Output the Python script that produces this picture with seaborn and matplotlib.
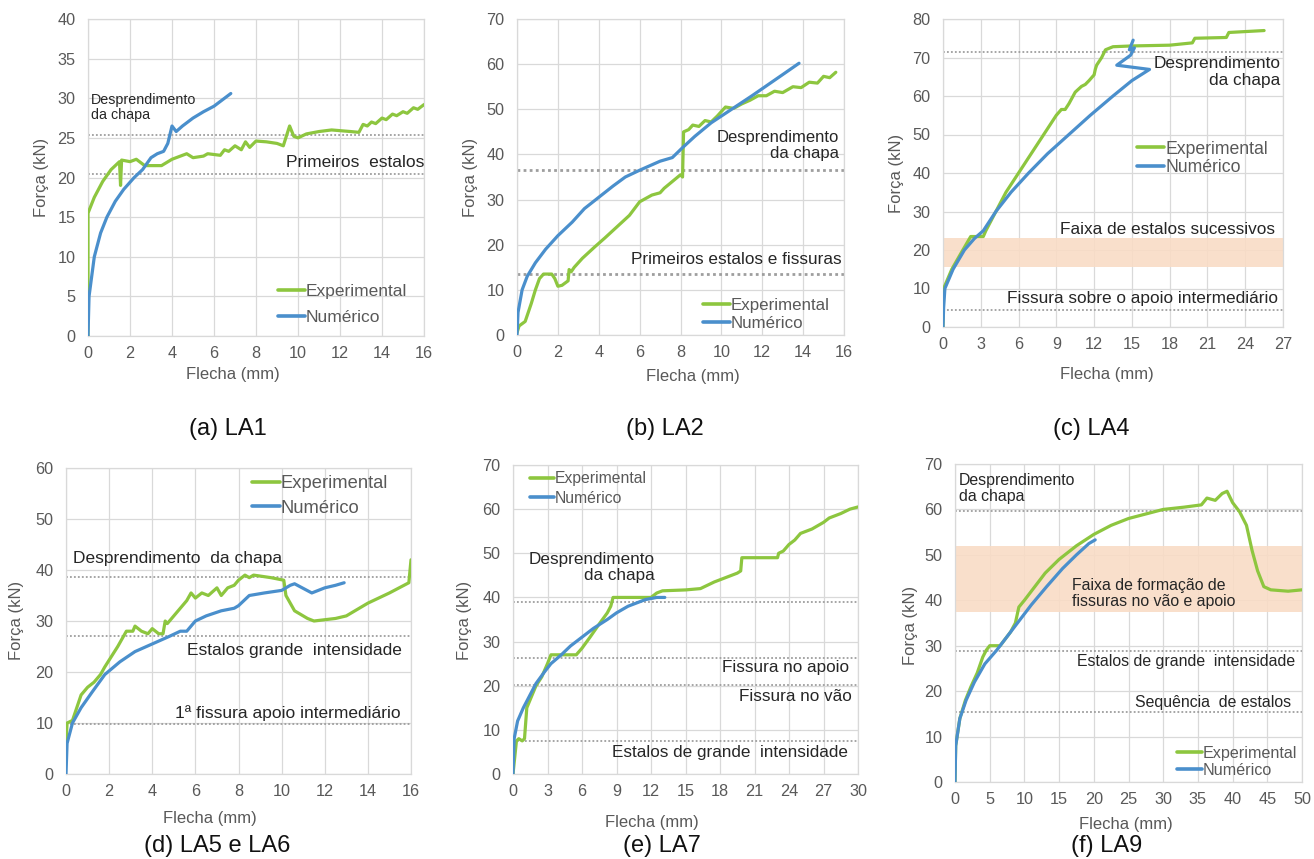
import matplotlib.pyplot as plt
import numpy as np
import pandas as pd
import seaborn as sns
from matplotlib.lines import Line2D

# --- data (Flecha in mm, Força in kN) ---
a_exp_x = [0, 0, 0.3, 0.7, 1.1, 1.5, 1.55, 1.6, 2.0, 2.3, 2.7, 3.5, 4.0, 4.7, 5.0, 5.5, 5.7, 6.3, 6.5, 6.7,
           7.0, 7.3, 7.5, 7.7, 8.0, 8.5, 9.0, 9.3, 9.6, 9.8, 10.0, 10.4, 11.0, 11.6, 12.5, 12.9, 13.1, 13.3,
           13.5, 13.7, 14.0, 14.2, 14.5, 14.7, 15.0, 15.2, 15.5, 15.7, 16.0]
a_exp_y = [0, 15.5, 17.5, 19.5, 21.0, 22.0, 19.0, 22.2, 22.0, 22.3, 21.5, 21.5, 22.3, 23.0, 22.5, 22.7, 23.0,
           22.8, 23.5, 23.3, 24.0, 23.5, 24.5, 23.8, 24.6, 24.5, 24.3, 24.0, 26.5, 25.2, 25.0, 25.5, 25.8,
           26.0, 25.8, 25.7, 26.7, 26.5, 27.0, 26.8, 27.5, 27.3, 28.0, 27.8, 28.3, 28.1, 28.8, 28.6, 29.2]
a_num_x = [0, 0.05, 0.3, 0.6, 0.9, 1.3, 1.7, 2.2, 2.6, 3.0, 3.3, 3.6, 3.8, 4.0, 4.2, 4.5, 5.0, 5.5, 6.0, 6.5, 6.8]
a_num_y = [0, 5, 10, 13, 15, 17, 18.5, 20, 21, 22.5, 23, 23.3, 24.3, 26.5, 25.8, 26.5, 27.5, 28.3, 29, 30, 30.6]

b_exp_x = [0, 0.1, 0.4, 0.7, 0.9, 1.1, 1.3, 1.7, 1.85, 2.0, 2.2, 2.5, 2.55, 2.65, 2.8, 3.2, 3.8, 4.3, 4.9, 5.5,
           6.0, 6.4, 6.6, 7.0, 7.2, 7.6, 8.0, 8.1, 8.15, 8.4, 8.6, 8.9, 9.2, 9.5, 9.8, 10.2, 10.6, 11.0, 11.4,
           11.8, 12.2, 12.6, 13.0, 13.5, 13.9, 14.3, 14.7, 15.0, 15.3, 15.6]
b_exp_y = [0.5, 2, 3, 7, 10, 12.5, 13.5, 13.5, 12.5, 10.8, 11, 12, 14.5, 14, 15, 17, 19.5, 21.5, 24, 26.5,
           29.5, 30.5, 31, 31.5, 32.5, 34, 35.5, 35, 45, 45.5, 46.5, 46.2, 47.5, 47.2, 48.5, 50.5, 50.2, 51.2,
           52, 53, 53, 54, 53.7, 55, 54.8, 56, 55.8, 57.3, 57, 58.2]
b_num_x = [0, 0.05, 0.25, 0.5, 0.9, 1.4, 2.0, 2.7, 3.3, 4.0, 4.7, 5.3, 6.0, 6.5, 7.0, 7.6, 8.1, 8.7, 9.5,
           10.5, 11.5, 12.3, 13.1, 13.8]
b_num_y = [0, 5, 10, 13, 16, 19, 22, 25, 28, 30.5, 33, 35, 36.5, 37.5, 38.5, 39.3, 41.5, 44, 47, 50, 53,
           55.5, 58, 60.2]

c_exp_x = [0, 0.05, 0.7, 1.4, 2.2, 3.2, 3.4, 4.2, 5.0, 6.0, 7.5, 9.0, 9.4, 9.7, 10.0, 10.5, 11.0, 11.3, 11.6,
           12.0, 12.1, 12.2, 12.6, 12.9, 13.5, 15.0, 18.0, 19.8, 20.0, 22.5, 22.7, 25.5]
c_exp_y = [0, 10, 15, 19, 23.5, 23.5, 25, 30, 35, 40, 47.5, 55, 56.5, 56.5, 58, 61, 62.5, 63, 64, 65.5,
           67, 68, 70, 72, 72.8, 73, 73.2, 73.8, 75, 75.2, 76.5, 77]
c_num_x = [0, 0.05, 0.15, 0.8, 1.7, 2.5, 3.2, 4.2, 5.4, 6.8, 8.3, 10.0, 11.7, 13.5, 15.0, 16.4, 13.8, 14.9,
           15.2, 14.8, 15.1]
c_num_y = [0, 5, 10, 15, 20, 23, 25, 30, 35, 40, 45, 50, 55, 60, 64, 66.9, 68.0, 70.6, 72.5, 72.0, 74.5]

d_exp_x = [0, 0.05, 0.3, 0.5, 0.7, 1.0, 1.3, 1.6, 1.8, 2.1, 2.4, 2.6, 2.8, 3.1, 3.2, 3.5, 3.8, 4.0, 4.3, 4.5,
           4.6, 4.7, 5.0, 5.3, 5.6, 5.8, 6.0, 6.3, 6.6, 7.0, 7.2, 7.5, 7.8, 8.0, 8.3, 8.5, 8.7, 9.5, 10.1,
           10.2, 10.6, 11.2, 11.5, 12.5, 13.0, 14.0, 15.0, 15.9, 16.0]
d_exp_y = [6, 10, 10.5, 13, 15.5, 17, 18, 19.5, 21, 23, 25, 26.5, 28, 28, 29, 28, 27.5, 28.5, 27.5, 27.5,
           30, 29.5, 31, 32.5, 34, 35.5, 34.5, 35.5, 35, 36.5, 35, 36.5, 37, 38, 39, 38.5, 39, 38.5, 38,
           35, 32, 30.5, 30, 30.5, 31, 33.5, 35.5, 37.5, 42]
d_num_x = [0, 0.05, 0.3, 0.7, 1.2, 1.8, 2.5, 3.2, 4.0, 4.8, 5.3, 5.6, 6.0, 6.5, 7.2, 7.8, 8.0, 8.5, 9.2, 10.0,
           10.4, 10.6, 11.4, 12.0, 12.5, 12.9]
d_num_y = [0, 6, 10, 13, 16, 19.5, 22, 24, 25.5, 27, 28, 28, 30, 31, 32, 32.5, 33, 35, 35.5, 36,
           37, 37.3, 35.5, 36.5, 37, 37.5]

e_exp_x = [0, 0.3, 0.5, 0.8, 1.0, 1.2, 2.0, 2.5, 3.0, 3.3, 4.5, 5.5, 6.0, 6.7, 7.5, 8.2, 8.5, 8.7, 12.0, 12.5,
           13.0, 15.0, 16.3, 17.5, 18.5, 19.5, 19.8, 19.9, 23.0, 23.1, 23.5, 24.0, 24.5, 25.0, 26.0, 27.0,
           27.5, 28.5, 29.3, 30.0]
e_exp_y = [0, 7.5, 8, 7.5, 8, 15, 20, 22, 25, 27, 27, 27, 28.5, 31, 34, 36.5, 38, 40, 40, 41,
           41.5, 41.7, 42, 43.5, 44.5, 45.5, 46, 49, 49, 50, 50.5, 52, 53, 54.5, 55.5, 57, 58, 59, 60, 60.5]
e_num_x = [0, 0.1, 0.4, 0.9, 1.5, 2.0, 2.7, 3.3, 4.2, 5.0, 6.0, 7.0, 8.2, 9.0, 10.0, 11.5, 12.5, 13.2]
e_num_y = [0, 8, 12, 15, 18, 20.5, 23, 25, 27, 29, 31, 33, 35, 36.5, 38, 39.5, 40, 40]

f_exp_x = [0, 0.1, 0.7, 1.5, 2.3, 3.2, 4.0, 4.5, 5.0, 6.5, 7.0, 8.0, 8.7, 9.2, 10.0, 11.5, 13.0, 15.0, 17.5,
           20.0, 22.5, 25.0, 27.5, 30.0, 33.0, 35.5, 36.3, 37.5, 38.5, 39.2, 40.0, 41.0, 42.0, 42.8, 43.6,
           44.5, 45.5, 48.0, 50.0]
f_exp_y = [0, 8, 14, 18, 21, 24, 27.5, 29, 30, 30, 31, 33, 35, 38.5, 40, 43, 46, 49, 52,
           54.5, 56.5, 58, 59, 60, 60.5, 61, 62.5, 62, 63.5, 64, 61.5, 59.5, 56.5, 51, 46.5,
           43, 42.3, 42, 42.3]
f_num_x = [0, 0.1, 0.7, 1.6, 2.8, 4.3, 6.0, 7.5, 9.0, 11.0, 13.2, 15.5, 17.5, 19.3, 20.2]
f_num_y = [0, 8, 14, 18, 22, 26, 29, 32, 35, 39, 43, 47, 50, 52.5, 53.3]

# reference levels (kN) and shaded bands
a_levels = [25.3, 20.5]
b_levels = [36.5, 13.5]
c_levels = [71.5, 4.3]
c_band = (15.6, 23.1)
d_levels = [38.6, 27.1, 9.9]
e_levels = [38.9, 26.2, 20.1, 7.5]
f_levels = [59.7, 28.9, 15.4]
f_band = (37.4, 51.9)

captions = ["(a) LA1", "(b) LA2", "(c) LA4", "(d) LA5 e LA6", "(e) LA7", "(f) LA9"]

GREEN = "#8DC63F"
BLUE = "#4A8FCC"
GRID = "#D9D9D9"
GRAYTXT = "#595959"
DARK = "#262626"
DOT = "#9E9E9E"
BAND = "#F9DCC6"

W, H = 1314, 859

sns.set_theme(style="white")
plt.rcParams['font.family'] = ['Liberation Sans', 'DejaVu Sans']

fig = plt.figure(figsize=(W / 100, H / 100), dpi=100)


def make_ax(box):
    l, t, r, b = box
    ax = fig.add_axes([l / W, 1 - b / H, (r - l) / W, (b - t) / H])
    return ax


def draw_panel(ax, box, exp_x, exp_y, num_x, num_y, xticks, yticks, levels, xlab_px, ylab_px,
               leg_pos, leg_fs=12.5, leg_sp=0.3, band=None, dot_lw=1.3):
    df = pd.DataFrame({
        "Flecha": list(exp_x) + list(num_x),
        "Força": list(exp_y) + list(num_y),
        "Série": ["Experimental"] * len(exp_x) + ["Numérico"] * len(num_x),
    })
    if band is not None:
        ax.axhspan(band[0], band[1], color=BAND, lw=0, zorder=1.5, alpha=0.9)
    for lv in levels:
        ax.axhline(lv, color=DOT, ls=(0, (1, 1.2)), lw=dot_lw, zorder=2)
    sns.lineplot(data=df, x="Flecha", y="Força", hue="Série",
                 palette={"Experimental": GREEN, "Numérico": BLUE},
                 sort=False, estimator=None, linewidth=2.3, legend=False, ax=ax, zorder=3)
    ax.set_xlim(xticks[0], xticks[-1])
    ax.set_ylim(yticks[0], yticks[-1])
    ax.set_xticks(xticks)
    ax.set_yticks(yticks)
    ax.grid(True, color=GRID, lw=0.9)
    ax.set_axisbelow(True)
    for s in ax.spines.values():
        s.set_color(GRID)
        s.set_linewidth(0.9)
    ax.tick_params(axis="both", length=0, labelsize=11.7, labelcolor=GRAYTXT)
    ax.tick_params(axis="y", pad=9)
    ax.tick_params(axis="x", pad=7)
    l, t, r, b = box
    ax.set_xlabel("Flecha (mm)", fontsize=12, color=GRAYTXT)
    ax.set_ylabel("Força (kN)", fontsize=12, color=GRAYTXT)
    ax.xaxis.label.set_va("center")
    ax.yaxis.label.set_va("center")
    ax.xaxis.set_label_coords((xlab_px[0] - l) / (r - l), 1 - (xlab_px[1] - t) / (b - t))
    ax.yaxis.set_label_coords((ylab_px[0] - l) / (r - l), 1 - (ylab_px[1] - t) / (b - t))
    handles = [Line2D([], [], color=GREEN, lw=2.6, label="Experimental"),
               Line2D([], [], color=BLUE, lw=2.6, label="Numérico")]
    ax.legend(handles=handles, loc="upper left", bbox_to_anchor=leg_pos, frameon=False,
              fontsize=leg_fs, handlelength=1.55, handletextpad=0.05, borderpad=0,
              borderaxespad=0, labelspacing=leg_sp, labelcolor=GRAYTXT)


def note(ax, x, y, s, ha="left", va="center", fs=12.5):
    ax.text(x, y, s, ha=ha, va=va, fontsize=fs, color=DARK, linespacing=1.1, zorder=4)


# (a) LA1
box_a = (88, 19, 424, 336)
ax = make_ax(box_a)
draw_panel(ax, box_a, a_exp_x, a_exp_y, a_num_x, a_num_y, np.arange(0, 17, 2), np.arange(0, 41, 5),
           a_levels, (233, 375), (42, 177), (0.565, 0.164), leg_fs=12.5, leg_sp=0.62)
note(ax, 0.13, 30.7, "Desprendimento\nda chapa", va="top", fs=10.3)
note(ax, 16.0, 21.9, "Primeiros  estalos", ha="right")

# (b) LA2
box_b = (517, 19, 844, 335)
ax = make_ax(box_b)
draw_panel(ax, box_b, b_exp_x, b_exp_y, b_num_x, b_num_y, np.arange(0, 17, 2), np.arange(0, 71, 10),
           b_levels, (693, 377), (470, 177), (0.57, 0.116), leg_fs=12.2, leg_sp=0.14, dot_lw=2.0)
note(ax, 15.75, 45.4, "Desprendimento\nda chapa", ha="right", va="top", fs=12)
note(ax, 15.9, 16.8, "Primeiros estalos e fissuras", ha="right", fs=12.3)

# (c) LA4
box_c = (943, 19, 1283, 327)
ax = make_ax(box_c)
draw_panel(ax, box_c, c_exp_x, c_exp_y, c_num_x, c_num_y, np.arange(0, 28, 3), np.arange(0, 81, 10),
           c_levels, (1107, 375), (896, 173), (0.571, 0.605), leg_fs=12.7, leg_sp=0.08, band=c_band)
note(ax, 26.8, 70.3, "Desprendimento\nda chapa", ha="right", va="top", fs=12.4)
note(ax, 26.4, 25.4, "Faixa de estalos sucessivos", ha="right", fs=12.4)
note(ax, 26.6, 7.3, "Fissura sobre o apoio intermediário", ha="right", fs=12.4)

# (d) LA5 e LA6
box_d = (66, 468, 411, 774)
ax = make_ax(box_d)
draw_panel(ax, box_d, d_exp_x, d_exp_y, d_num_x, d_num_y, np.arange(0, 17, 2), np.arange(0, 61, 10),
           d_levels, (210, 819), (17, 620), (0.538, 0.977), leg_fs=13.2, leg_sp=0.42)
note(ax, 0.33, 42.3, "Desprendimento  da chapa", fs=12.5)
note(ax, 15.57, 24.3, "Estalos grande  intensidade", ha="right", fs=12.5)
note(ax, 15.5, 12.0, "1ª fissura apoio intermediário", ha="right", fs=12.5)

# (e) LA7
box_e = (513, 465, 858, 774)
ax = make_ax(box_e)
draw_panel(ax, box_e, e_exp_x, e_exp_y, e_num_x, e_num_y, np.arange(0, 31, 3), np.arange(0, 71, 10),
           e_levels, (652, 822), (464, 620), (0.049, 0.979), leg_fs=11.3, leg_sp=0.27)
note(ax, 12.3, 50.4, "Desprendimento\nda chapa", ha="right", va="top", fs=12.3)
note(ax, 29.2, 24.2, "Fissura no apoio", ha="right", fs=12.3)
note(ax, 29.45, 17.5, "Fissura no vão", ha="right", fs=12.3)
note(ax, 29.1, 4.9, "Estalos de grande  intensidade", ha="right", fs=12.3)

# (f) LA9
box_f = (955, 464, 1302, 782)
ax = make_ax(box_f)
draw_panel(ax, box_f, f_exp_x, f_exp_y, f_num_x, f_num_y, np.arange(0, 51, 5), np.arange(0, 71, 10),
           f_levels, (1126, 824), (911, 625), (0.639, 0.113), leg_fs=11.6, leg_sp=0.1, band=f_band)
note(ax, 0.6, 68.1, "Desprendimento\nda chapa", va="top", fs=11.4)
note(ax, 16.9, 41.5, "Faixa de formação de\nfissuras no vão e apoio", fs=11.4)
note(ax, 49.0, 26.6, "Estalos de grande  intensidade", ha="right", fs=11.4)
note(ax, 48.4, 17.5, "Sequência  de estalos", ha="right", fs=11.4)

# captions under each panel
cap_pos = [(228, 429), (665, 429), (1091, 429), (217, 846), (662, 846), (1107, 846)]
for (cx, cy), cap in zip(cap_pos, captions):
    fig.text(cx / W, 1 - cy / H, cap, ha="center", va="center", fontsize=17, color="#111111")

fig.savefig("out.png", dpi=100)
